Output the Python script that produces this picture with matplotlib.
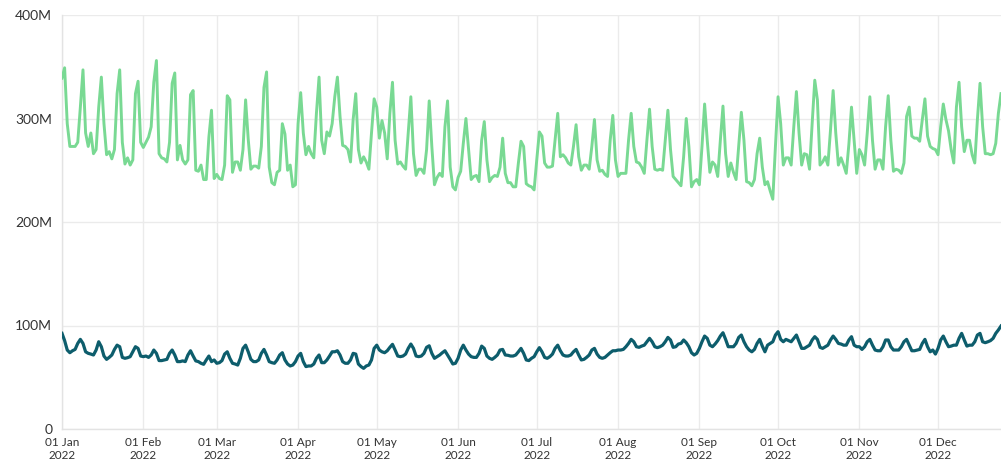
import pandas as pd
import matplotlib
matplotlib.use("Agg")
import matplotlib.pyplot as plt
import matplotlib.dates as mdates
from matplotlib.ticker import FuncFormatter

plt.rcParams["font.family"] = ["Lato", "DejaVu Sans"]

# daily values in millions, starting 01 Jan 2022, one row per week
green = [
    339, 349, 295, 273, 273, 273, 277,
    311, 347, 286, 273, 286, 266, 270,
    311, 340, 295, 265, 268, 261, 270,
    324, 347, 277, 256, 262, 255, 260,
    324, 336, 277, 272, 277, 282, 292,
    335, 356, 266, 262, 261, 258, 277,
    334, 344, 260, 274, 260, 256, 260,
    323, 327, 250, 249, 255, 241, 241,
    282, 308, 242, 246, 242, 241, 255,
    322, 318, 248, 258, 258, 250, 270,
    318, 280, 251, 254, 254, 252, 273,
    330, 345, 253, 238, 236, 248, 250,
    295, 285, 250, 255, 234, 236, 295,
    325, 286, 265, 273, 266, 262, 305,
    340, 279, 266, 287, 283, 295, 321,
    340, 302, 274, 273, 270, 258, 299,
    324, 270, 257, 263, 258, 251, 286,
    319, 311, 281, 298, 286, 261, 305,
    335, 279, 256, 258, 254, 251, 286,
    321, 266, 245, 251, 251, 247, 270,
    317, 273, 236, 243, 247, 244, 292,
    317, 253, 234, 231, 243, 249, 276,
    300, 270, 241, 244, 245, 239, 279,
    297, 260, 239, 243, 245, 244, 253,
    281, 247, 238, 238, 234, 234, 257,
    278, 273, 237, 235, 234, 231, 260,
    287, 283, 257, 253, 253, 254, 279,
    305, 263, 265, 262, 257, 255, 273,
    294, 263, 250, 255, 255, 251, 273,
    299, 260, 249, 250, 246, 244, 279,
    303, 260, 244, 247, 247, 247, 279,
    305, 273, 258, 257, 253, 247, 279,
    309, 273, 251, 250, 251, 250, 279,
    308, 270, 244, 241, 238, 235, 263,
    300, 273, 234, 239, 241, 236, 273,
    314, 279, 248, 258, 255, 244, 279,
    312, 266, 244, 257, 248, 241, 273,
    306, 279, 239, 238, 235, 241, 266,
    281, 253, 236, 239, 230, 222, 273,
    321, 295, 255, 262, 262, 255, 292,
    326, 286, 255, 266, 265, 251, 295,
    337, 318, 255, 258, 263, 255, 289,
    327, 286, 255, 262, 255, 247, 275,
    311, 279, 247, 270, 265, 255, 286,
    321, 279, 251, 260, 260, 251, 292,
    322, 279, 249, 251, 250, 247, 257,
    302, 311, 283, 281, 281, 278, 299,
    319, 283, 273, 271, 270, 265, 292,
    314, 299, 288, 270, 257, 311, 335,
    292, 268, 279, 279, 265, 257, 299,
    334, 292, 266, 266, 265, 266, 276,
    305, 324,
]

teal = [
    92.4, 85.4, 76.3, 73.7, 75.6, 76.9, 82.7,
    86.6, 82.7, 74.6, 73.1, 72.4, 71.5, 76.3,
    84.3, 79.5, 70.5, 67.3, 69.2, 71.5, 76.9,
    81.0, 79.5, 69.2, 68.3, 68.9, 69.9, 74.6,
    79.5, 77.9, 70.5, 69.9, 70.5, 69.2, 71.5,
    76.3, 73.1, 66.1, 66.1, 66.7, 67.3, 73.1,
    76.3, 71.5, 65.1, 65.1, 65.8, 65.1, 71.5,
    75.6, 70.5, 65.8, 65.1, 63.5, 62.5, 66.7,
    70.5, 65.1, 66.7, 63.5, 64.1, 66.1, 72.4,
    74.6, 68.3, 63.5, 62.8, 61.8, 68.3, 77.9,
    81.0, 74.6, 67.3, 65.1, 65.1, 66.7, 73.1,
    76.9, 71.5, 65.1, 64.1, 63.5, 66.7, 71.5,
    73.7, 66.7, 62.8, 60.9, 61.8, 65.1, 70.5,
    73.1, 65.1, 60.3, 60.9, 60.9, 62.8, 68.3,
    71.5, 64.1, 64.1, 66.7, 70.5, 74.6, 74.6,
    75.6, 71.5, 65.1, 63.5, 63.5, 66.7, 73.1,
    72.4, 62.8, 60.3, 58.6, 60.9, 61.8, 66.7,
    77.9, 81.0, 76.3, 74.6, 73.7, 75.6, 78.9,
    81.8, 76.3, 70.5, 69.9, 70.5, 72.4, 77.9,
    82.1, 77.9, 70.5, 69.9, 70.5, 73.1, 78.9,
    80.4, 73.1, 68.3, 69.9, 71.5, 73.7, 75.6,
    71.5, 67.3, 62.8, 63.5, 68.3, 76.3, 81.0,
    76.3, 72.4, 69.9, 69.2, 69.2, 73.1, 80.1,
    77.9, 70.5, 68.3, 67.3, 69.2, 71.5, 76.3,
    76.9, 71.5, 71.2, 70.5, 70.5, 71.5, 74.6,
    77.9, 73.1, 66.7, 66.1, 68.3, 69.9, 74.6,
    78.6, 74.6, 69.2, 68.3, 69.9, 72.4, 77.9,
    81.0, 75.6, 71.5, 70.5, 70.5, 71.5, 74.6,
    76.9, 71.5, 66.7, 67.3, 69.2, 71.5, 76.3,
    77.9, 72.4, 69.2, 68.3, 69.2, 71.5, 73.7,
    75.6, 75.6, 76.3, 76.3, 76.9, 79.5, 82.7,
    86.6, 84.3, 79.5, 78.9, 80.1, 81.0, 84.3,
    87.6, 84.3, 79.5, 78.6, 79.5, 81.0, 84.3,
    88.5, 86.0, 78.9, 79.5, 82.1, 82.7, 86.0,
    83.4, 79.5, 73.7, 71.5, 73.1, 77.9, 84.3,
    89.8, 87.6, 81.0, 79.5, 82.1, 85.4, 89.8,
    93.0, 86.6, 79.5, 79.5, 79.5, 82.7, 88.5,
    90.8, 84.3, 79.5, 76.3, 74.6, 76.9, 82.7,
    86.6, 80.1, 74.6, 81.0, 82.7, 84.3, 90.8,
    94.0, 86.6, 84.3, 86.6, 85.4, 84.3, 87.6,
    90.8, 84.3, 77.9, 77.9, 79.5, 81.0, 86.0,
    89.2, 86.6, 78.9, 77.9, 79.5, 81.0, 86.0,
    89.8, 86.6, 82.7, 82.1, 81.0, 81.0, 86.0,
    89.2, 81.0, 79.5, 79.5, 76.9, 79.5, 84.3,
    86.6, 81.0, 76.3, 75.6, 75.6, 79.5, 86.0,
    86.0, 79.5, 76.3, 76.3, 76.3, 79.5, 84.3,
    86.6, 81.0, 75.6, 75.6, 76.3, 76.9, 82.7,
    86.6, 79.5, 74.6, 76.3, 72.4, 77.9, 86.0,
    89.8, 84.3, 79.5, 80.1, 81.0, 81.0, 87.6,
    92.4, 86.0, 80.1, 81.0, 81.0, 84.3, 90.8,
    92.4, 84.3, 83.4, 84.3, 85.4, 87.6, 92.4,
    95.7, 99.5,
]

dates = pd.date_range("2022-01-01", periods=len(green), freq="D")
df = pd.DataFrame({"green": green, "teal": teal}, index=dates) * 1e6

fig = plt.figure(figsize=(10.01, 4.67), dpi=100)
ax = fig.add_axes([62 / 1001, 38 / 467, 939 / 1001, 414 / 467])

ax.plot(df.index, df["green"], color="#79d993", lw=2.1, solid_joinstyle="round", zorder=3)
ax.plot(df.index, df["teal"], color="#0d5d6c", lw=2.3, solid_joinstyle="round", zorder=3)

ax.set_xlim(df.index[0], df.index[-1])
ax.set_ylim(0, 400e6)
ax.set_yticks([0, 100e6, 200e6, 300e6, 400e6])
ax.yaxis.set_major_formatter(FuncFormatter(lambda v, p: "0" if v == 0 else f"{int(v / 1e6)}M"))
ax.xaxis.set_major_locator(mdates.MonthLocator())
ax.xaxis.set_major_formatter(mdates.DateFormatter("%d %b\n%Y"))

ax.grid(True, color="#ebebeb", lw=1)
ax.set_axisbelow(True)
for s in ["top", "right"]:
    ax.spines[s].set_visible(False)
for s in ["left", "bottom"]:
    ax.spines[s].set_color("#e3e3e3")
    ax.spines[s].set_linewidth(1)
ax.tick_params(length=0, colors="#333333")
ax.tick_params(axis="x", labelsize=8.5, pad=6)
ax.tick_params(axis="y", labelsize=10, pad=7)

fig.savefig("out.png", dpi=100)
